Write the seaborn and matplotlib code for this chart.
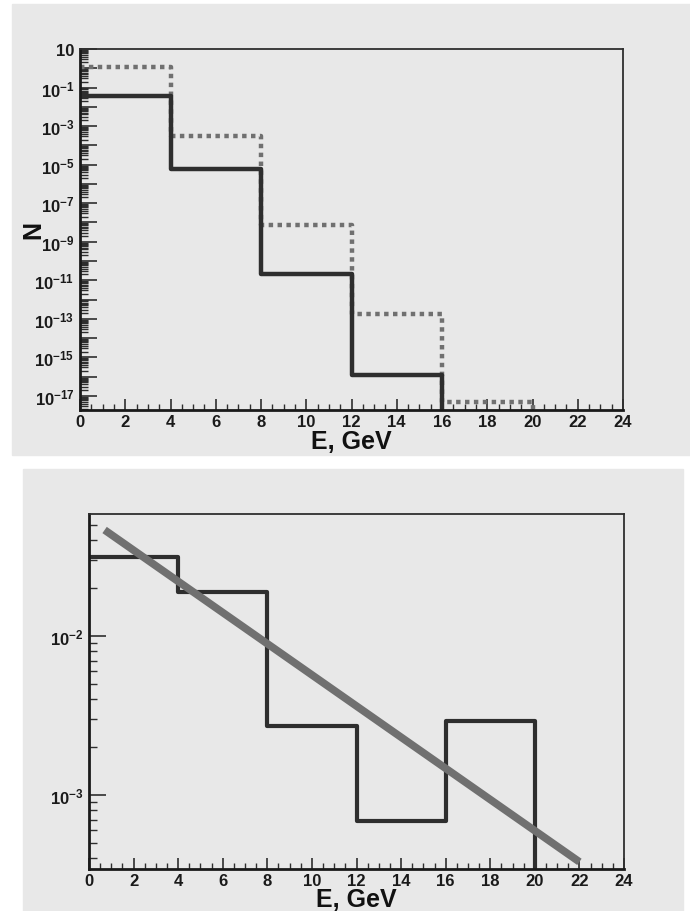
import numpy as np
import matplotlib
matplotlib.use("Agg")
import matplotlib.pyplot as plt
import matplotlib.ticker as mticker
from matplotlib.patches import Rectangle
import seaborn as sns

# bin edges (GeV)
edges = [0, 4, 8, 12, 16, 20, 24]

# top panel: solid and dashed histograms (1e-30 = empty bin)
top_solid = [3.6e-2, 6.0e-6, 2.1e-11, 1.25e-16, 1e-30, 1e-30]
top_dashed = [1.1, 3.1e-4, 7.4e-9, 1.8e-13, 4.9e-18, 1e-30]

# bottom panel: histogram and exponential fit line end points
bot_hist = [3.14e-2, 1.89e-2, 2.72e-3, 6.86e-4, 2.92e-3, 1e-30]
fit_e = [0.7, 22.0]
fit_n = [4.64e-2, 3.8e-4]

sns.set_style("white")
plt.rcParams["font.family"] = ["Liberation Sans", "DejaVu Sans"]
plt.rcParams["font.weight"] = "bold"
plt.rcParams["axes.unicode_minus"] = False
plt.rcParams["mathtext.fontset"] = "custom"
plt.rcParams["mathtext.rm"] = "Liberation Sans:bold"
plt.rcParams["mathtext.bf"] = "Liberation Sans:bold"
plt.rcParams["mathtext.it"] = "Liberation Sans:bold"

bg = "#e8e8e8"
dark = "#2e2e2e"
mid = "#707070"

fig = plt.figure(figsize=(6.9, 9.12), dpi=100)
fig.patch.set_facecolor("white")
fig.add_artist(Rectangle((12 / 690, 1 - 456 / 912), 1 - 12 / 690, 451 / 912,
                         transform=fig.transFigure, color=bg, zorder=-10))
fig.add_artist(Rectangle((23 / 690, 0), (683 - 23) / 690, 1 - 470 / 912,
                         transform=fig.transFigure, color=bg, zorder=-10))

ax1 = fig.add_axes([80 / 690, 1 - 411 / 912, 543 / 690, 361 / 912])
ax2 = fig.add_axes([89 / 690, 1 - 870 / 912, 535 / 690, 355 / 912])


def step_vals(v):
    return list(v) + [v[-1]]


sns.lineplot(x=edges, y=step_vals(top_dashed), ax=ax1, drawstyle="steps-post",
             color=mid, lw=3.2, linestyle=(0, (1, 1)), estimator=None, sort=False)
sns.lineplot(x=edges, y=step_vals(top_solid), ax=ax1, drawstyle="steps-post",
             color=dark, lw=3.2, estimator=None, sort=False)

sns.lineplot(x=edges, y=step_vals(bot_hist), ax=ax2, drawstyle="steps-post",
             color=dark, lw=3.0, estimator=None, sort=False)
sns.lineplot(x=fit_e, y=fit_n, ax=ax2, color=mid, lw=5.5,
             estimator=None, sort=False, solid_capstyle="butt")


def fmt_top(v, pos):
    e = int(round(np.log10(v)))
    if e % 2 == 0:
        return ""
    if e == 1:
        return "10"
    return r"$10^{%d}$" % e


def fmt_bot(v, pos):
    e = int(round(np.log10(v)))
    return r"$10^{%d}$" % e


for ax in (ax1, ax2):
    ax.set_facecolor(bg)
    ax.set_yscale("log")
    ax.set_xlim(0, 24)
    ax.xaxis.set_major_locator(mticker.MultipleLocator(2))
    ax.xaxis.set_minor_locator(mticker.MultipleLocator(0.5))
    ax.yaxis.set_major_locator(mticker.LogLocator(base=10, numticks=40))
    ax.yaxis.set_minor_locator(mticker.LogLocator(base=10, subs=np.arange(2, 10), numticks=40))
    ax.yaxis.set_minor_formatter(mticker.NullFormatter())
    ax.tick_params(axis="x", which="major", direction="in", length=8, width=1.2,
                   labelsize=12, pad=3, colors=dark, bottom=True, top=False)
    ax.tick_params(axis="x", which="minor", direction="in", length=4, width=1.0,
                   bottom=True, top=False, colors=dark)
    ax.tick_params(axis="y", which="major", direction="in", length=12, width=1.2,
                   labelsize=12, pad=4, colors=dark, left=True, right=False)
    ax.tick_params(axis="y", which="minor", direction="in", length=5.5, width=1.0,
                   left=True, right=False, colors=dark)
    for side in ("top", "right"):
        ax.spines[side].set_linewidth(1.3)
        ax.spines[side].set_color(dark)
    for side in ("left", "bottom"):
        ax.spines[side].set_linewidth(2.0)
        ax.spines[side].set_color("#1a1a1a")
    for lab in ax.get_xticklabels() + ax.get_yticklabels():
        lab.set_fontweight("bold")
        lab.set_color("#1a1a1a")

ax1.set_ylim(10 ** -17.73, 10)
ax1.yaxis.set_major_formatter(mticker.FuncFormatter(fmt_top))
ax2.set_ylim(10 ** -3.465, 10 ** -1.233)
ax2.yaxis.set_major_formatter(mticker.FuncFormatter(fmt_bot))

ax1.set_xlabel("E, GeV", fontsize=18, fontweight="bold", labelpad=0, color="#111111")
ax1.set_ylabel("N", fontsize=18, fontweight="bold", labelpad=-8, color="#111111")
ax2.set_xlabel("E, GeV", fontsize=18, fontweight="bold", labelpad=-1, color="#111111")
ax2.set_ylabel("")

fig.savefig("out.png", dpi=100)
